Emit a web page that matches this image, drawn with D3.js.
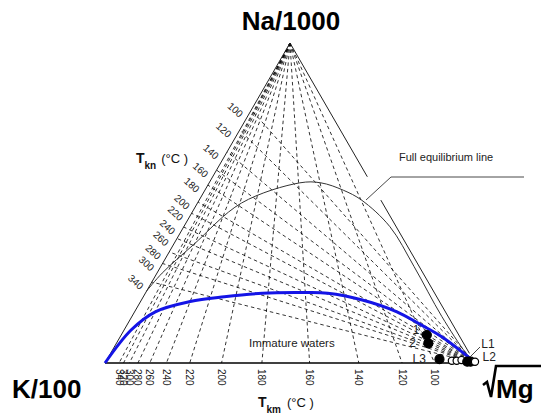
<!DOCTYPE html>
<html>
<head>
<meta charset="utf-8">
<script src="https://cdn.jsdelivr.net/npm/d3@7"></script>
<style>
  body { margin: 0; background: #fff; }
  text { font-family: Arial, "Liberation Sans", sans-serif; }
</style>
</head>
<body>
<div id="chart"></div>
<script>
// Tkm isotherms: position on the K-Mg side (fraction of sqrt(Mg))
const tkmTemps = [340, 320, 300, 280, 260, 240, 220, 200, 180, 160, 140, 120, 100];
const tkmMg = [0.038, 0.050, 0.066, 0.089, 0.121, 0.166, 0.229, 0.315, 0.424, 0.553, 0.686, 0.803, 0.891];

// Tkn isotherms: position on the K-Na side (fraction of Na/1000)
const tknTemps = [100, 120, 140, 160, 180, 200, 220, 240, 260, 280, 300, 340];
const tknNa = [0.791, 0.728, 0.660, 0.603, 0.556, 0.503, 0.468, 0.425, 0.389, 0.347, 0.311, 0.253];

// full equilibrium line (Na fraction, Mg fraction)
const eqNa = [0.225, 0.281, 0.369, 0.500, 0.563, 0.563, 0.540, 0.509, 0.426, 0.301, 0.145, 0.031, 0.0];
const eqMg = [0.000, 0.014, 0.054, 0.119, 0.245, 0.302, 0.374, 0.439, 0.557, 0.685, 0.838, 0.960, 1.0];

// immature waters boundary (blue)
const immNa = [0.0, 0.103, 0.160, 0.192, 0.207, 0.218, 0.220, 0.218, 0.197, 0.160, 0.119, 0.082, 0.030, 0.009];
const immMg = [0.0, 0.019, 0.056, 0.134, 0.219, 0.316, 0.427, 0.493, 0.597, 0.709, 0.795, 0.869, 0.955, 0.987];

// samples
const sampleNames = ["1", "2", "L3", "a", "b", "c", "L1", "L2", "d"];
const sampleNa = [0.0875, 0.0616, 0.012, 0.007, 0.007, 0.009, 0.004, 0.004, 0.004];
const sampleMg = [0.826, 0.843, 0.898, 0.934, 0.947, 0.959, 0.977, 0.986, 0.998];
const sampleFilled = [true, true, true, false, false, false, true, true, false];

const width = 541, height = 416;

const svg = d3.select("#chart").append("svg")
    .attr("width", width)
    .attr("height", height);

// ternary -> pixel: base K(0)..Mg(1), height Na
const x = d3.scaleLinear().domain([0, 1]).range([105, 475]);
const y = d3.scaleLinear().domain([0, 1]).range([363, 43]);
const pt = (na, mg) => [x(mg + na / 2), y(na)];

const grid = svg.append("g")
    .attr("fill", "none")
    .attr("stroke", "#000")
    .attr("stroke-width", 0.8)
    .attr("stroke-dasharray", "3.5,3");

// Tkm lines from Na apex to base
grid.selectAll("line.tkm")
    .data(tkmMg)
    .join("line")
    .attr("class", "tkm")
    .attr("x1", pt(1, 0)[0]).attr("y1", pt(1, 0)[1])
    .attr("x2", d => pt(0, d)[0]).attr("y2", d => pt(0, d)[1]);

// Tkn lines from Mg vertex to K-Na side
grid.selectAll("line.tkn")
    .data(tknNa)
    .join("line")
    .attr("class", "tkn")
    .attr("x1", pt(0, 1)[0]).attr("y1", pt(0, 1)[1])
    .attr("x2", d => pt(d, 0)[0]).attr("y2", d => pt(d, 0)[1]);

// triangle edges
const edges = svg.append("g").attr("stroke", "#222").attr("fill", "none");
edges.append("line")
    .attr("x1", pt(0, 0)[0]).attr("y1", pt(0, 0)[1])
    .attr("x2", pt(1, 0)[0]).attr("y2", pt(1, 0)[1])
    .attr("stroke-width", 1);
edges.append("line")
    .attr("x1", pt(0, 0)[0]).attr("y1", pt(0, 0)[1])
    .attr("x2", pt(0, 1)[0]).attr("y2", pt(0, 1)[1])
    .attr("stroke", "#000")
    .attr("stroke-width", 1.4);
// right edge, broken where the label leader crosses
const gapTop = 0.582, gapBottom = 0.509;
edges.append("line")
    .attr("x1", pt(1, 0)[0]).attr("y1", pt(1, 0)[1])
    .attr("x2", pt(gapTop, 1 - gapTop)[0]).attr("y2", pt(gapTop, 1 - gapTop)[1])
    .attr("stroke-width", 1);
edges.append("line")
    .attr("x1", pt(gapBottom, 1 - gapBottom)[0]).attr("y1", pt(gapBottom, 1 - gapBottom)[1])
    .attr("x2", pt(0.03, 0.97)[0]).attr("y2", pt(0.03, 0.97)[1])
    .attr("stroke-width", 1);

// full equilibrium line
const eqPts = eqNa.map((d, i) => pt(d, eqMg[i]));
svg.append("path")
    .attr("d", d3.line().curve(d3.curveCatmullRom)(eqPts))
    .attr("fill", "none")
    .attr("stroke", "#333")
    .attr("stroke-width", 1);

// immature waters boundary
const immPts = immNa.map((d, i) => pt(d, immMg[i]));
svg.append("path")
    .attr("d", d3.line().curve(d3.curveCatmullRom)(immPts))
    .attr("fill", "none")
    .attr("stroke", "#1414e6")
    .attr("stroke-width", 3);

// leader for the equilibrium label
svg.append("path")
    .attr("d", "M366,200 L391,177 L524,177")
    .attr("fill", "none")
    .attr("stroke", "#333")
    .attr("stroke-width", 0.9);
svg.append("text")
    .attr("x", 399).attr("y", 161)
    .attr("font-size", 11)
    .attr("fill", "#222")
    .text("Full equilibrium line");

svg.append("text")
    .attr("x", 249).attr("y", 347)
    .attr("font-size", 11.5)
    .attr("fill", "#222")
    .text("Immature waters");

// samples
const samples = sampleNames.map((n, i) => ({ name: n, p: pt(sampleNa[i], sampleMg[i]), filled: sampleFilled[i] }));
svg.selectAll("circle.sample")
    .data(samples)
    .join("circle")
    .attr("class", "sample")
    .attr("cx", d => d.p[0])
    .attr("cy", d => d.p[1])
    .attr("r", d => d.filled ? 4.5 : 3.6)
    .attr("fill", d => d.filled ? "#000" : "#fff")
    .attr("stroke", "#000")
    .attr("stroke-width", 1.2);

const sampleLabelOffsets = { "1": [-14, -1], "2": [-19, 4], "L3": [-27, 4], "L1": [14, -14], "L2": [12, -1] };
svg.selectAll("text.slabel")
    .data(samples.filter(d => sampleLabelOffsets[d.name]))
    .join("text")
    .attr("class", "slabel")
    .attr("x", d => d.p[0] + sampleLabelOffsets[d.name][0])
    .attr("y", d => d.p[1] + sampleLabelOffsets[d.name][1])
    .attr("font-size", 12)
    .attr("fill", "#222")
    .text(d => d.name);
svg.append("line")
    .attr("x1", 470).attr("y1", 357).attr("x2", 480).attr("y2", 347)
    .attr("stroke", "#333").attr("stroke-width", 0.9);

// Tkm tick labels along base
svg.selectAll("text.tkmlab")
    .data(tkmTemps)
    .join("text")
    .attr("class", "tkmlab")
    .attr("transform", (d, i) => `translate(${pt(0, tkmMg[i])[0]}, 369) rotate(90)`)
    .attr("dominant-baseline", "central")
    .attr("font-size", 10)
    .attr("fill", "#222")
    .text(d => d);

// Tkn tick labels along left side
svg.selectAll("text.tknlab")
    .data(tknTemps)
    .join("text")
    .attr("class", "tknlab")
    .attr("transform", (d, i) => `translate(${pt(tknNa[i], 0)[0] - 16}, ${pt(tknNa[i], 0)[1]}) rotate(42)`)
    .attr("text-anchor", "middle")
    .attr("dominant-baseline", "central")
    .attr("font-size", 10)
    .attr("fill", "#222")
    .text(d => d);

// axis titles
const tkn = svg.append("text").attr("x", 136).attr("y", 163).attr("fill", "#111");
tkn.append("tspan").attr("font-size", 14).attr("font-weight", "bold").text("T");
tkn.append("tspan").attr("font-size", 10).attr("font-weight", "bold").attr("dy", 6).text("kn");
tkn.append("tspan").attr("font-size", 13).attr("dy", -6).attr("dx", 5).text("(°C )");

const tkmT = svg.append("text").attr("x", 258).attr("y", 407).attr("fill", "#111");
tkmT.append("tspan").attr("font-size", 14).attr("font-weight", "bold").text("T");
tkmT.append("tspan").attr("font-size", 10).attr("font-weight", "bold").attr("dy", 6).text("km");
tkmT.append("tspan").attr("font-size", 13).attr("dy", -6).attr("dx", 6).text("(°C )");

// vertex labels
svg.append("text")
    .attr("x", 291).attr("y", 30)
    .attr("text-anchor", "middle")
    .attr("font-size", 26).attr("font-weight", "bold")
    .text("Na/1000");
svg.append("text")
    .attr("x", 12).attr("y", 398)
    .attr("font-size", 26).attr("font-weight", "bold")
    .text("K/100");
// square-root sign over Mg
svg.append("path")
    .attr("d", "M483,385 L487,382 L491,397 L496,366 L541,366")
    .attr("fill", "none")
    .attr("stroke", "#000")
    .attr("stroke-width", 2.6)
    .attr("stroke-linejoin", "miter");
svg.append("text")
    .attr("x", 496).attr("y", 398)
    .attr("font-size", 26).attr("font-weight", "bold")
    .text("Mg");
</script>
</body>
</html>
